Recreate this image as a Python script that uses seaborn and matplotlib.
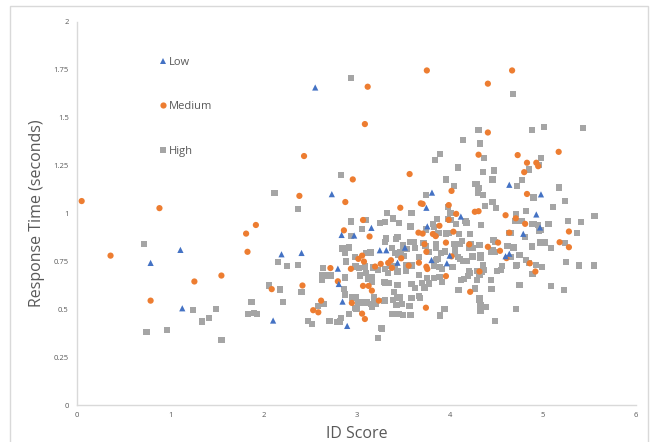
import matplotlib
matplotlib.use("Agg")
import matplotlib.pyplot as plt
import seaborn as sns
import pandas as pd
from matplotlib.patches import Rectangle

# ---- data (ID score, response time) ----
low = [(0.79, 0.742), (1.11, 0.81), (1.13, 0.505), (2.105, 0.441), (2.195, 0.787),
       (2.41, 0.794), (2.557, 1.658), (2.735, 1.101), (2.80, 0.712), (2.81, 0.632),
       (2.84, 0.888), (2.85, 0.54), (2.90, 0.413), (2.975, 0.885), (3.16, 0.925),
       (3.25, 0.808), (3.32, 0.808), (3.44, 0.743), (3.52, 0.822), (3.75, 1.03),
       (3.76, 0.933), (3.805, 0.757), (3.81, 1.109), (3.97, 0.74), (4.00, 0.78),
       (4.12, 0.984), (4.60, 0.777), (4.64, 0.79), (4.64, 1.15), (4.79, 0.894),
       (4.93, 0.995), (4.97, 0.927), (4.98, 1.10)]

medium = [(0.05, 1.065), (0.36, 0.78), (0.79, 0.545), (0.885, 1.028), (1.26, 0.645),
          (1.55, 0.676), (1.815, 0.895), (1.83, 0.80), (1.92, 0.94), (2.09, 0.605),
          (2.387, 1.092), (2.42, 0.624), (2.437, 1.30), (2.535, 0.495), (2.59, 0.484),
          (2.62, 0.545), (2.72, 0.715), (2.80, 0.646), (2.865, 0.912), (2.88, 1.06),
          (2.94, 0.711), (2.95, 0.533), (2.96, 1.178), (3.02, 0.763), (3.06, 0.78),
          (3.08, 0.749), (3.06, 0.477), (3.07, 0.966), (3.07, 0.622), (3.09, 1.467),
          (3.09, 0.449), (3.12, 1.662), (3.13, 0.622), (3.14, 0.88), (3.165, 0.597),
          (3.20, 0.723), (3.24, 0.545), (3.26, 0.737), (3.34, 0.742), (3.37, 0.756),
          (3.38, 0.716), (3.47, 1.03), (3.48, 0.766), (3.56, 0.728), (3.57, 1.206),
          (3.665, 0.90), (3.71, 0.895), (3.67, 0.743), (3.69, 1.053), (3.71, 1.05),
          (3.73, 0.84), (3.745, 0.508), (3.75, 0.80), (3.75, 0.722), (3.76, 0.71),
          (3.755, 1.747), (3.82, 0.893), (3.85, 0.882), (3.89, 0.936), (3.96, 0.848),
          (3.96, 0.673), (3.99, 1.044), (3.99, 0.967), (4.02, 1.118), (4.02, 0.776),
          (4.04, 0.905), (4.07, 0.998), (4.21, 0.839), (4.22, 0.591), (4.27, 1.009),
          (4.31, 1.012), (4.31, 1.307), (4.32, 0.697), (4.41, 1.423), (4.41, 1.678),
          (4.41, 0.826), (4.52, 0.848), (4.54, 0.805), (4.60, 0.991), (4.61, 0.767),
          (4.64, 0.90), (4.67, 1.747), (4.71, 0.975), (4.73, 1.305), (4.80, 1.216),
          (4.81, 0.946), (4.83, 1.265), (4.83, 1.102), (4.86, 0.74), (4.92, 0.697),
          (4.93, 1.265), (4.95, 1.247), (5.17, 1.322), (5.18, 0.85), (5.28, 0.906),
          (5.28, 0.824)]

high_left = [(0.715, 0.84), (0.745, 0.383), (0.966, 0.39), (1.247, 0.495), (1.345, 0.436),
             (1.417, 0.453), (1.49, 0.502), (1.55, 0.34), (1.837, 0.476), (1.873, 0.538),
             (1.904, 0.479), (1.931, 0.476), (2.06, 0.624), (2.12, 1.106), (2.16, 0.747),
             (2.18, 0.603), (2.21, 0.538), (2.25, 0.726), (2.37, 0.73), (2.37, 1.023),
             (2.41, 0.59), (2.48, 0.44), (2.52, 0.423), (2.585, 0.517), (2.64, 0.714),
             (2.63, 0.676), (2.63, 0.653), (2.70, 0.676), (2.73, 0.676), (2.65, 0.528),
             (2.71, 0.44), (2.79, 0.435), (2.82, 0.436), (2.83, 0.456), (2.83, 1.202),
             (2.94, 1.706), (2.85, 0.817), (2.88, 0.796), (2.92, 0.822), (2.94, 0.882),
             (2.94, 0.958), (2.89, 0.749), (2.88, 0.666), (2.87, 0.604), (2.88, 0.577),
             (2.92, 0.476), (2.95, 0.561), (2.99, 0.561), (3.0, 0.50), (3.02, 0.533),
             (2.99, 0.723), (2.98, 0.773), (3.04, 0.676), (3.06, 0.535), (3.09, 0.723),
             (3.10, 0.688), (3.12, 0.666), (3.10, 0.793), (3.06, 0.918), (3.10, 0.967),
             (3.11, 0.535), (3.16, 0.528), (3.21, 0.528), (3.19, 0.561), (3.27, 0.40),
             (3.23, 0.348), (3.25, 0.95), (3.31, 0.955), (3.33, 1.002), (3.39, 0.974),
             (3.46, 0.95), (3.32, 0.87), (3.31, 0.85), (3.42, 0.868), (3.50, 0.833),
             (3.47, 0.80), (3.51, 0.78), (3.59, 1.002), (3.58, 0.85), (3.62, 0.85),
             (3.63, 0.819), (3.36, 0.726), (3.41, 0.726), (3.31, 0.709), (3.34, 0.688),
             (3.44, 0.697), (3.53, 0.728), (3.59, 0.728), (3.53, 0.70), (3.35, 0.639),
             (3.44, 0.627), (3.31, 0.639), (3.31, 0.549), (3.40, 0.59), (3.44, 0.561),
             (3.47, 0.561), (3.49, 0.528), (3.38, 0.477), (3.45, 0.477), (3.50, 0.47),
             (3.58, 0.47), (3.59, 0.557), (3.57, 0.517), (3.67, 0.571), (3.63, 0.613),
             (3.59, 0.631), (3.67, 0.772), (3.67, 0.678), (3.54, 0.814), (3.38, 0.819),
             (3.58, 0.932), (3.44, 0.876), (3.41, 0.793), (3.45, 0.784), (3.15, 0.796),
             (3.16, 0.667), (3.18, 0.718), (3.17, 0.645), (3.03, 0.714), (3.125, 0.658),
             (3.23, 0.705), (3.30, 0.644), (3.30, 0.543), (3.39, 0.547), (3.43, 0.522),
             (3.26, 0.404), (2.98, 0.505), (3.11, 0.531), (3.17, 0.514), (3.48, 0.797)]

high_right = [(3.75, 1.095), (4.30, 1.105), (4.36, 1.098), (4.90, 1.084), (5.24, 1.067),
              (3.98, 1.032), (4.46, 1.06), (4.38, 1.039), (4.50, 1.027), (5.11, 1.032),
              (4.01, 1.004), (4.82, 1.015), (4.71, 0.996), (4.70, 0.962), (5.27, 0.961),
              (5.41, 0.954), (5.555, 0.989), (4.77, 0.959), (4.88, 0.944), (4.90, 0.944),
              (4.95, 0.938), (4.975, 0.914), (4.96, 0.907), (5.06, 0.944), (5.37, 0.898),
              (4.81, 0.876), (4.64, 0.90), (4.66, 0.90), (4.34, 0.941), (4.17, 0.961),
              (4.18, 0.95), (4.07, 0.946), (3.98, 0.97), (4.01, 0.966), (3.86, 0.97),
              (3.82, 0.944), (3.835, 0.931), (3.75, 0.917), (3.88, 0.90), (3.85, 0.891),
              (3.96, 0.896), (3.99, 0.90), (4.10, 0.891), (4.22, 0.891), (4.13, 0.858),
              (4.045, 0.841), (4.11, 0.841), (4.23, 0.839), (4.21, 0.818), (4.25, 0.82),
              (4.32, 0.836), (4.47, 0.86), (4.49, 0.851), (4.46, 0.811), (4.485, 0.80),
              (4.62, 0.83), (4.685, 0.823), (4.75, 0.782), (4.66, 0.773), (4.82, 0.756),
              (4.85, 0.743), (4.71, 0.729), (4.93, 0.731), (4.99, 0.719), (4.89, 0.684),
              (5.085, 0.818), (5.01, 0.844), (4.975, 0.849), (5.02, 0.849), (5.24, 0.844),
              (4.88, 0.828), (5.25, 0.745), (5.39, 0.729), (5.55, 0.729), (5.085, 0.621),
              (5.23, 0.599), (4.75, 0.628), (4.71, 0.50), (4.49, 0.439), (4.32, 0.55),
              (4.33, 0.522), (4.39, 0.512), (4.33, 0.49), (4.45, 0.606), (4.27, 0.608),
              (4.095, 0.599), (3.945, 0.501), (3.90, 0.467), (4.44, 0.653), (4.29, 0.651),
              (4.12, 0.654), (4.155, 0.656), (4.20, 0.675), (4.21, 0.70), (4.22, 0.688),
              (4.32, 0.677), (4.37, 0.703), (4.55, 0.703), (4.51, 0.70), (4.56, 0.726),
              (4.36, 0.729), (4.36, 0.719), (4.33, 0.785), (4.33, 0.766), (4.25, 0.776),
              (4.11, 0.762), (4.14, 0.752), (4.18, 0.753), (4.09, 0.773), (4.06, 0.808),
              (4.06, 0.789), (3.95, 0.802), (3.91, 0.794), (3.87, 0.762), (3.85, 0.756),
              (3.78, 0.799), (3.85, 0.839), (3.855, 0.818), (3.72, 0.844), (3.74, 0.83),
              (4.03, 0.719), (3.92, 0.712), (3.89, 0.719), (3.83, 0.729), (3.83, 0.665),
              (3.89, 0.667), (3.76, 0.663), (3.92, 0.642), (3.70, 0.639), (3.73, 0.614),
              (3.78, 0.635), (3.68, 0.557), (4.35, 0.696), (4.29, 0.70), (4.24, 0.776),
              (4.44, 0.80), (4.32, 0.557), (4.72, 0.731)]

high_top = [(4.31, 1.436), (4.88, 1.436), (5.01, 1.453), (5.43, 1.446), (4.145, 1.382),
            (4.327, 1.366), (3.90, 1.312), (3.84, 1.281), (4.37, 1.288), (4.98, 1.288),
            (4.96, 1.253), (4.85, 1.23), (4.09, 1.24), (4.36, 1.218), (4.48, 1.225),
            (3.96, 1.178), (4.045, 1.143), (4.27, 1.154), (4.29, 1.156), (4.31, 1.135),
            (4.46, 1.178), (4.775, 1.173), (4.72, 1.143), (5.17, 1.136), (4.68, 1.626)]

high = high_left + high_right + high_top

groups = ["Low", "Medium", "High"]
colors = ["#4472C4", "#ED7D31", "#A5A5A5"]
markers = ["^", "o", "s"]
x_ticks = [0, 1, 2, 3, 4, 5, 6]
y_ticks = [0, 0.25, 0.5, 0.75, 1, 1.25, 1.5, 1.75, 2]
y_tick_labels = ["0", "0.25", "0.5", "0.75", "1", "1.25", "1.5", "1.75", "2"]
x_title = "ID Score"
y_title = "Response Time (seconds)"

# ---- build table ----
rows = []
for name, pts in (("High", high), ("Medium", medium), ("Low", low)):
    for x, y in pts:
        rows.append((x, y, name))
df = pd.DataFrame(rows, columns=[x_title, y_title, "Level"])

sns.set_style("white")
plt.rcParams["font.family"] = ["Open Sans", "DejaVu Sans"]
text_col = "#595959"

fig = plt.figure(figsize=(6.53, 4.42), dpi=100)
ax = fig.add_axes([77 / 653, 1 - 405 / 442, 559 / 653, 383 / 442])

sns.scatterplot(data=df, x=x_title, y=y_title, hue="Level", style="Level",
                hue_order=groups, style_order=groups,
                palette=dict(zip(groups, colors)),
                markers=dict(zip(groups, markers)),
                s=20, linewidth=0, ax=ax)

ax.set_xlim(0, 6)
ax.set_ylim(0, 2)
ax.set_xticks(x_ticks)
ax.set_xticklabels([str(t) for t in x_ticks])
ax.set_yticks(y_ticks)
ax.set_yticklabels(y_tick_labels)
ax.tick_params(length=0, labelsize=5.5, labelcolor=text_col)
ax.tick_params(axis="y", pad=6)
ax.tick_params(axis="x", pad=5)

for side in ("top", "right"):
    ax.spines[side].set_visible(False)
for side in ("left", "bottom"):
    ax.spines[side].set_color("#D9D9D9")
    ax.spines[side].set_linewidth(1.0)

ax.set_xlabel(x_title, fontsize=11.5, color=text_col)
ax.set_ylabel(y_title, fontsize=11.5, color=text_col)
ax.xaxis.set_label_coords(0.5, -0.055)
ax.yaxis.set_label_coords(-0.058, 0.5)

handles, labels = ax.get_legend_handles_labels()
leg = ax.legend(handles, labels, loc="upper left", bbox_to_anchor=(0.126, 0.935),
                frameon=False, labelspacing=3.0, handletextpad=0.0,
                handlelength=1.0, fontsize=8, markerscale=1.0)
for t in leg.get_texts():
    t.set_color(text_col)

fig.patches.append(Rectangle((10 / 653, -0.02), (648 - 10) / 653, 1 - 6 / 442 + 0.02,
                             transform=fig.transFigure, fill=False,
                             edgecolor="#D9D9D9", linewidth=1.0))

fig.savefig("out.png", dpi=100)
